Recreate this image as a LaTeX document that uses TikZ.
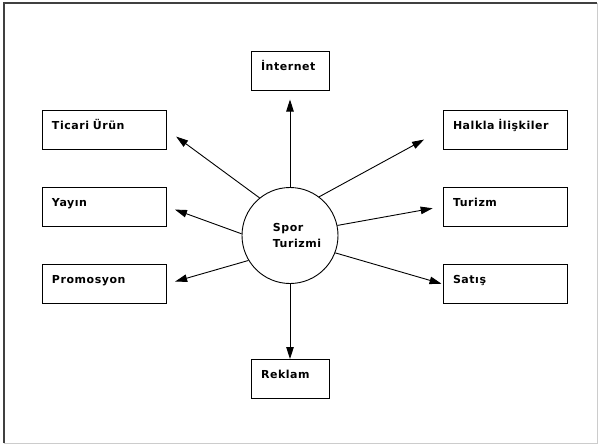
\documentclass[tikz,border=0pt]{standalone}
\usepackage{fontspec}
\usepackage{tikz}
\usetikzlibrary{arrows.meta, positioning}
\newfontfamily\diafont{DejaVu Sans}[LetterSpace=5]

\begin{document}
\begin{tikzpicture}[
  x=1pt, y=-1pt,
  box/.style={draw, line width=1pt, minimum width=124pt, text width=104pt, inner xsep=10pt, inner ysep=0pt,
    text height=19pt, text depth=20pt, align=left, font=\diafont\bfseries\fontsize{11}{13}\selectfont},
  midbox/.style={box, minimum width=78pt, text width=58pt},
  hub/.style={draw, circle, line width=0.9pt, minimum size=96pt, inner sep=0pt, align=left,
    font=\diafont\bfseries\fontsize{11}{16}\selectfont},
  >={Triangle[length=12pt, width=7.5pt]}, line width=0.9pt
]
\useasboundingbox (0,0) rectangle (598,445);
\draw[black!75, line width=1.2pt] (4,443) -- (4,3) -- (597,3);
\draw[black!20, line width=1pt] (597,3) -- (597,443) -- (4,443);

\node[hub] (spor) at (290,235.5) {\hspace*{14pt}Spor\\\hspace*{14pt}Turizmi};

\node[midbox] (net) at (290,70.5) {İnternet};
\node[midbox] (rek) at (290,379)  {Reklam};
\node[box] (tic) at (104,129.5) {Ticari Ürün};
\node[box] (yay) at (104,206.5) {Yayın};
\node[box] (pro) at (104,284)   {Promosyon};
\node[box] (hal) at (505,129.5) {Halkla İlişkiler};
\node[box] (tur) at (505,206.5) {Turizm};
\node[box] (sat) at (505,284)   {Satış};

\draw[->, shorten >=9pt]  (spor.north) -- (net.south);
\draw[->]                 (spor.south) -- (rek.north);
\draw[->, shorten >=12pt] (spor.129) -- (tic.east);
\draw[->, shorten >=9pt]  (spor.178) -- (yay.east);
\draw[->, shorten >=9pt]  (spor.211) -- (pro.east);
\draw[->, shorten >=21pt] (spor.53)  -- (hal.west);
\draw[->, shorten >=10pt] (spor.12)  -- (tur.west);
\draw[->, shorten >=1pt]  (spor.339) -- (sat.west);
\end{tikzpicture}
\end{document}
